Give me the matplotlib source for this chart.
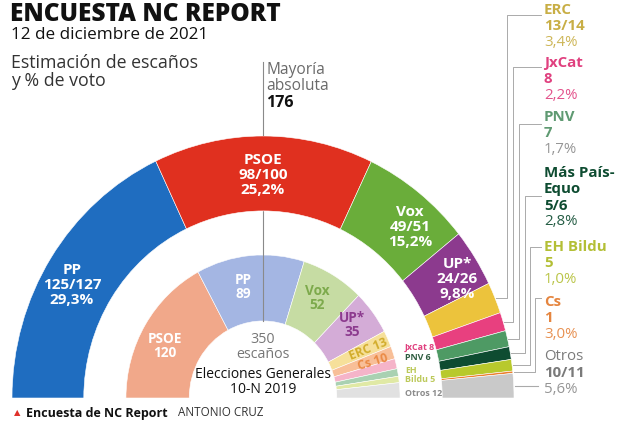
import matplotlib
matplotlib.use("Agg")
import matplotlib.pyplot as plt
from matplotlib.patches import Wedge
import numpy as np

plt.rcParams['font.family'] = ['Open Sans', 'DejaVu Sans']

# Encuesta NC Report, 12 dic 2021 (anillo exterior)
partidos = ['PP', 'PSOE', 'Vox', 'UP*', 'ERC', 'JxCat', 'PNV', 'Más País-\nEquo', 'EH Bildu', 'Cs', 'Otros']
escanos_min = [125, 98, 49, 24, 13, 8, 7, 5, 5, 1, 10]
escanos_max = [127, 100, 51, 26, 14, 8, 7, 6, 5, 1, 11]
voto = [29.3, 25.2, 15.2, 9.8, 3.4, 2.2, 1.7, 2.8, 1.0, 3.0, 5.6]
colores = ['#1f6dc0', '#e0301f', '#6aad3a', '#8c3a8e', '#ecc33c', '#e8407f',
           '#4e9a64', '#0e4c31', '#b8c92c', '#ec7f2e', '#c9c9c9']

# Elecciones generales 10-N 2019 (anillo interior)
partidos_19 = ['PSOE', 'PP', 'Vox', 'UP*', 'ERC', 'Cs', 'JxCat', 'PNV', 'EH Bildu', 'Otros']
escanos_19 = [120, 89, 52, 35, 13, 10, 8, 6, 5, 12]
colores_19 = ['#f1a88a', '#a4b6e3', '#c6dca3', '#d4acd7', '#f6e09a', '#f8bf98',
              '#f5b4c9', '#a9d1b2', '#e0e9a5', '#e1e1e1']

# colores de texto de la columna derecha
txt_col = {'ERC': '#c8ae45', 'JxCat': '#e0407f', 'PNV': '#5f9a72', 'Más País-\nEquo': '#0e4c31',
           'EH Bildu': '#b3bf35', 'Cs': '#e5853f', 'Otros': '#7a7a7a'}


def fmt_esc(lo, hi):
    return str(lo) if lo == hi else '%d/%d' % (lo, hi)


def fmt_pct(p):
    return ('%.1f' % p).replace('.', ',') + '%'


def anillo(ax, valores, cols, r, w, z):
    total = float(sum(valores))
    ang = 180.0
    mids = []
    for v, c in zip(valores, cols):
        a = v / total * 180.0
        ax.add_patch(Wedge((0, 0), r, ang - a, ang, width=w, facecolor=c,
                           edgecolor='white', linewidth=0.4, zorder=z))
        mids.append(ang - a / 2)
        ang -= a
    return mids


W, H = 625, 425
CX, CY = 263, 398       # centro en pixeles
RX, RY = 251, 262        # radio exterior (horizontal / vertical)

fig = plt.figure(figsize=(W / 100, H / 100), dpi=100)
fig.patch.set_facecolor('white')

# ejes del hemiciclo
axd = fig.add_axes([(CX - RX) / W, (H - CY) / H, 2 * RX / W, RY / H])
axd.set_xlim(-1, 1)
axd.set_ylim(0, 1)
axd.axis('off')

mid_ext = anillo(axd, [(a + b) / 2 for a, b in zip(escanos_min, escanos_max)], colores, 1.0, 0.286, 3)
mid_int = anillo(axd, escanos_19, colores_19, 0.546, 0.252, 1)

# linea de mayoria absoluta
axd.plot([0, 0], [0.294, (CY - 62) / RY], color='#8a8a8a', lw=0.8, zorder=2, clip_on=False)

# capa de textos en pixeles
ax = fig.add_axes([0, 0, 1, 1])
ax.set_xlim(0, W)
ax.set_ylim(H, 0)
ax.patch.set_alpha(0)
ax.axis('off')

ax.text(10, 14, 'ENCUESTA NC REPORT', fontsize=17.6, fontweight='extra bold', va='center', color='#111111')
ax.text(11, 35, '12 de diciembre de 2021', fontsize=12.3, va='center', color='#111111')
ax.text(11, 72, 'Estimación de escaños\ny % de voto', fontsize=12.8, va='center',
        color='#333333', linespacing=1.0)

ax.text(266, 78, 'Mayoría\nabsoluta', fontsize=11.2, va='center', color='#6a6a6a', linespacing=0.95)
ax.text(266, 103, '176', fontsize=11.5, fontweight='bold', va='center', color='#111111')

# etiquetas del anillo exterior
pos_ext = {'PP': (72, 285), 'PSOE': (263, 175), 'Vox': (410, 227), 'UP*': (457, 279)}
for i, p in enumerate(partidos[:4]):
    x, y = pos_ext[p]
    ax.text(x, y, p + '\n' + fmt_esc(escanos_min[i], escanos_max[i]) + '\n' + fmt_pct(voto[i]),
            ha='center', va='center', fontsize=11, fontweight='bold', color='white', linespacing=1.05)

# etiquetas del anillo interior
pos_int = {'PSOE': (165, 346, 'white'), 'PP': (243, 287, 'white'), 'Vox': (317, 298, '#7daa4c'),
           'UP*': (352, 325, '#8c3a8e')}
for p, v in zip(partidos_19, escanos_19):
    if p in pos_int:
        x, y, c = pos_int[p]
        ax.text(x, y, p + '\n' + str(v), ha='center', va='center', fontsize=9.8,
                fontweight='bold', color=c, linespacing=1.0)
ax.text(368, 349, 'ERC %d' % escanos_19[4], ha='center', va='center', fontsize=8.8,
        fontweight='bold', color='#d2ad2c', rotation=22)
ax.text(373, 362, 'Cs %d' % escanos_19[5], ha='center', va='center', fontsize=8.8,
        fontweight='bold', color='#ea8a45', rotation=17)
pequenas = [('JxCat', 347, '#e0407f'), ('PNV', 358, '#2f5d40'), ('EH\nBildu', 375, '#bcc95a'),
            ('Otros', 393, '#8a8a8a')]
for (p, y, c), v in zip(pequenas, escanos_19[6:]):
    ax.text(405, y, p + ' ' + str(v), ha='left', va='center', fontsize=6.4,
            fontweight='bold', color=c, linespacing=0.95)

ax.text(263, 347, '350\nescaños', ha='center', va='center', fontsize=10.3, color='#777777', linespacing=0.95)
ax.text(263, 382, 'Elecciones Generales\n10-N 2019', ha='center', va='center', fontsize=10,
        color='#111111', linespacing=0.95)

# columna derecha
leyenda_y = [10, 63, 117, 173, 247, 302, 357]
linea_y = [15, 67, 124, 196, 247, 298]
linea_x = [507, 513, 519, 525, 530, 535]
for k, i in enumerate(range(4, 11)):
    p = partidos[i]
    c = txt_col[p]
    lineas = p.split('\n')
    y = leyenda_y[k]
    for ln in lineas:
        ax.text(544, y, ln, fontsize=10.8, fontweight='bold' if p != 'Otros' else 'normal',
                color=c, va='center')
        y += 16.3
    ax.text(544, y, fmt_esc(escanos_min[i], escanos_max[i]), fontsize=10.8,
            fontweight='bold', color=c, va='center')
    y += 16.3
    ax.text(544, y, fmt_pct(voto[i]), fontsize=10.8,
            color=c if p not in ('PNV', 'Otros') else '#8a8a8a', va='center', alpha=0.9)
    a = np.radians(mid_ext[i])
    xs = CX + RX * np.cos(a) + 1
    ys = CY - RY * np.sin(a)
    if p == 'Otros':
        ax.plot([xs, 538], [ys, ys], color='#aaaaaa', lw=0.8)
    else:
        ly, lx = linea_y[k], linea_x[k]
        ax.plot([xs, lx, lx, 541], [ys, ys, ly, ly], color='#aaaaaa', lw=0.7)

# pie
ax.text(14, 413, '▲', fontsize=6, color='#e0302a', va='center', family=['DejaVu Sans'])
ax.text(26, 413, 'Encuesta de NC Report', fontsize=9, fontweight='bold', va='center', color='#111111')
ax.text(178, 413, 'ANTONIO CRUZ', fontsize=8.4, va='center', color='#333333')

fig.savefig('out.png', dpi=100)
